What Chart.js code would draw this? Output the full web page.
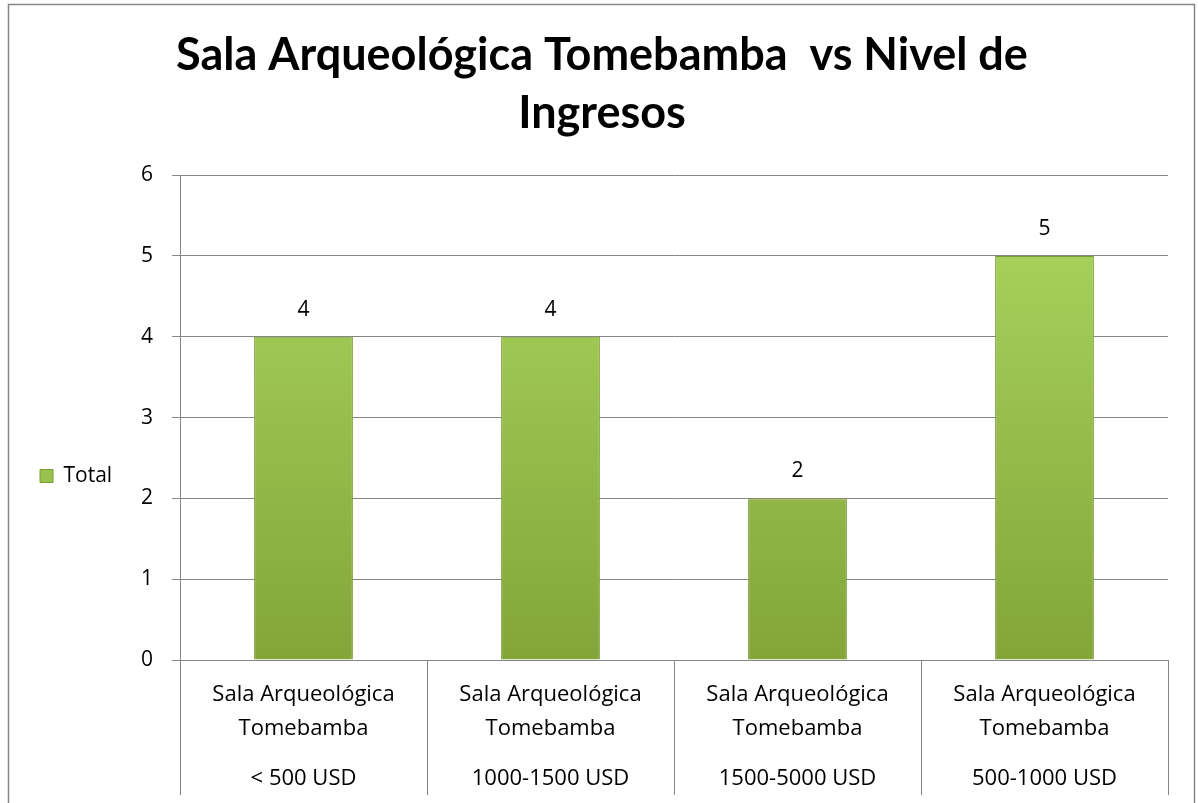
<!DOCTYPE html>
<html>
<head>
<meta charset="utf-8">
<script src="https://cdn.jsdelivr.net/npm/chart.js@4.4.1/dist/chart.umd.min.js"></script>
<style>
  html, body { margin: 0; padding: 0; background: #fff; }
  canvas { display: block; }
</style>
</head>
<body>
<canvas id="chart" width="1198" height="803"></canvas>
<script>
// chart data
const catTop = [
  ['Sala Arqueológica', 'Tomebamba'],
  ['Sala Arqueológica', 'Tomebamba'],
  ['Sala Arqueológica', 'Tomebamba'],
  ['Sala Arqueológica', 'Tomebamba']
];
const catBottom = ['< 500 USD', '1000-1500 USD', '1500-5000 USD', '500-1000 USD'];
const totals = [4, 4, 2, 5];
const yTicks = [0, 1, 2, 3, 4, 5, 6];
const seriesName = 'Total';
const titleLines = ['Sala Arqueológica Tomebamba  vs Nivel de', 'Ingresos'];

const TITLE_FONT = 'Lato, "Open Sans", sans-serif';
const FONT = '"Open Sans", Lato, sans-serif';
const GRAY = '#868686';
const PAD_LEFT = 36;

// frame round the whole chart
const framePlugin = {
  id: 'frame',
  beforeDraw(chart) {
    const c = chart.ctx;
    c.save();
    c.fillStyle = '#fff';
    c.fillRect(0, 0, chart.width, chart.height);
    c.strokeStyle = GRAY;
    c.lineWidth = 1.5;
    c.strokeRect(8.5, 4.5, chart.width - 12, chart.height + 20);
    c.restore();
  }
};

// the legend sits left of the y labels, a bit below the middle
const legendPlace = {
  id: 'legendPlace',
  afterLayout(chart) {
    const lg = chart.legend;
    if (!lg) return;
    const dx = 30 - lg.left;
    const dy = 476 - (lg.top + lg.bottom) / 2;
    lg.left += dx; lg.right += dx;
    lg.top += dy; lg.bottom += dy;
  }
};

// value labels above bars
const valuePlugin = {
  id: 'values',
  afterDatasetsDraw(chart) {
    const c = chart.ctx;
    const meta = chart.getDatasetMeta(0);
    c.save();
    c.font = '21px ' + FONT;
    c.fillStyle = '#000';
    c.textAlign = 'center';
    c.textBaseline = 'middle';
    meta.data.forEach((bar, i) => {
      c.fillText(String(totals[i]), bar.x, bar.y - 27);
    });
    c.restore();
  }
};

function barFill(ctx) {
  const area = ctx.chart.chartArea;
  if (!area) return '#98c04c';
  const g = ctx.chart.ctx.createLinearGradient(0, area.top, 0, area.bottom);
  g.addColorStop(0, '#acd860');
  g.addColorStop(1, '#83a53a');
  return g;
}

new Chart(document.getElementById('chart'), {
  type: 'bar',
  data: {
    labels: catTop,
    datasets: [{
      label: seriesName,
      data: totals,
      backgroundColor: barFill,
      borderColor: '#7c9c36',
      borderWidth: 1,
      barPercentage: 0.4,
      categoryPercentage: 1
    }]
  },
  options: {
    responsive: false,
    animation: false,
    devicePixelRatio: 1,
    layout: { padding: { left: PAD_LEFT, right: 30, top: 0, bottom: 0 } },
    plugins: {
      title: {
        display: true,
        text: titleLines,
        color: '#000',
        font: { family: TITLE_FONT, size: 45, weight: 'bold', lineHeight: 1.28 },
        padding: { top: 27, bottom: 33 }
      },
      legend: {
        position: 'left',
        labels: {
          color: '#000',
          font: { family: FONT, size: 21 },
          boxWidth: 13,
          boxHeight: 13,
          padding: 10,
          generateLabels: () => [{
            text: seriesName,
            fillStyle: '#98c04c',
            strokeStyle: '#7c9c36',
            lineWidth: 1,
            datasetIndex: 0
          }]
        }
      },
      tooltip: { enabled: false }
    },
    scales: {
      y: {
        min: 0,
        max: 6,
        afterFit: s => {
          const lw = (s.chart.legend && s.chart.legend.width) || 90;
          s.width = 180 - PAD_LEFT - lw;
        },
        afterBuildTicks: s => { s.ticks = yTicks.map(v => ({ value: v })); },
        ticks: { color: '#000', font: { family: FONT, size: 21 }, padding: 19 },
        grid: { color: GRAY, tickLength: 8 },
        border: { color: GRAY }
      },
      x: {
        afterFit: s => { s.height = 92; },
        ticks: {
          color: '#000',
          font: { family: FONT, size: 22, lineHeight: 1.55 },
          padding: -74,
          maxRotation: 0,
          autoSkip: false
        },
        grid: { offset: true, drawOnChartArea: false, color: GRAY, tickLength: 92 },
        border: { color: GRAY }
      },
      x2: {
        type: 'category',
        position: 'bottom',
        labels: catBottom,
        afterFit: s => { s.height = 51; },
        ticks: {
          color: '#000',
          font: { family: FONT, size: 22, lineHeight: 1.2 },
          padding: -29,
          maxRotation: 0,
          autoSkip: false
        },
        grid: { offset: true, drawOnChartArea: false, color: GRAY, tickLength: 43 },
        border: { display: false }
      }
    }
  },
  plugins: [framePlugin, legendPlace, valuePlugin]
});
</script>
</body>
</html>
